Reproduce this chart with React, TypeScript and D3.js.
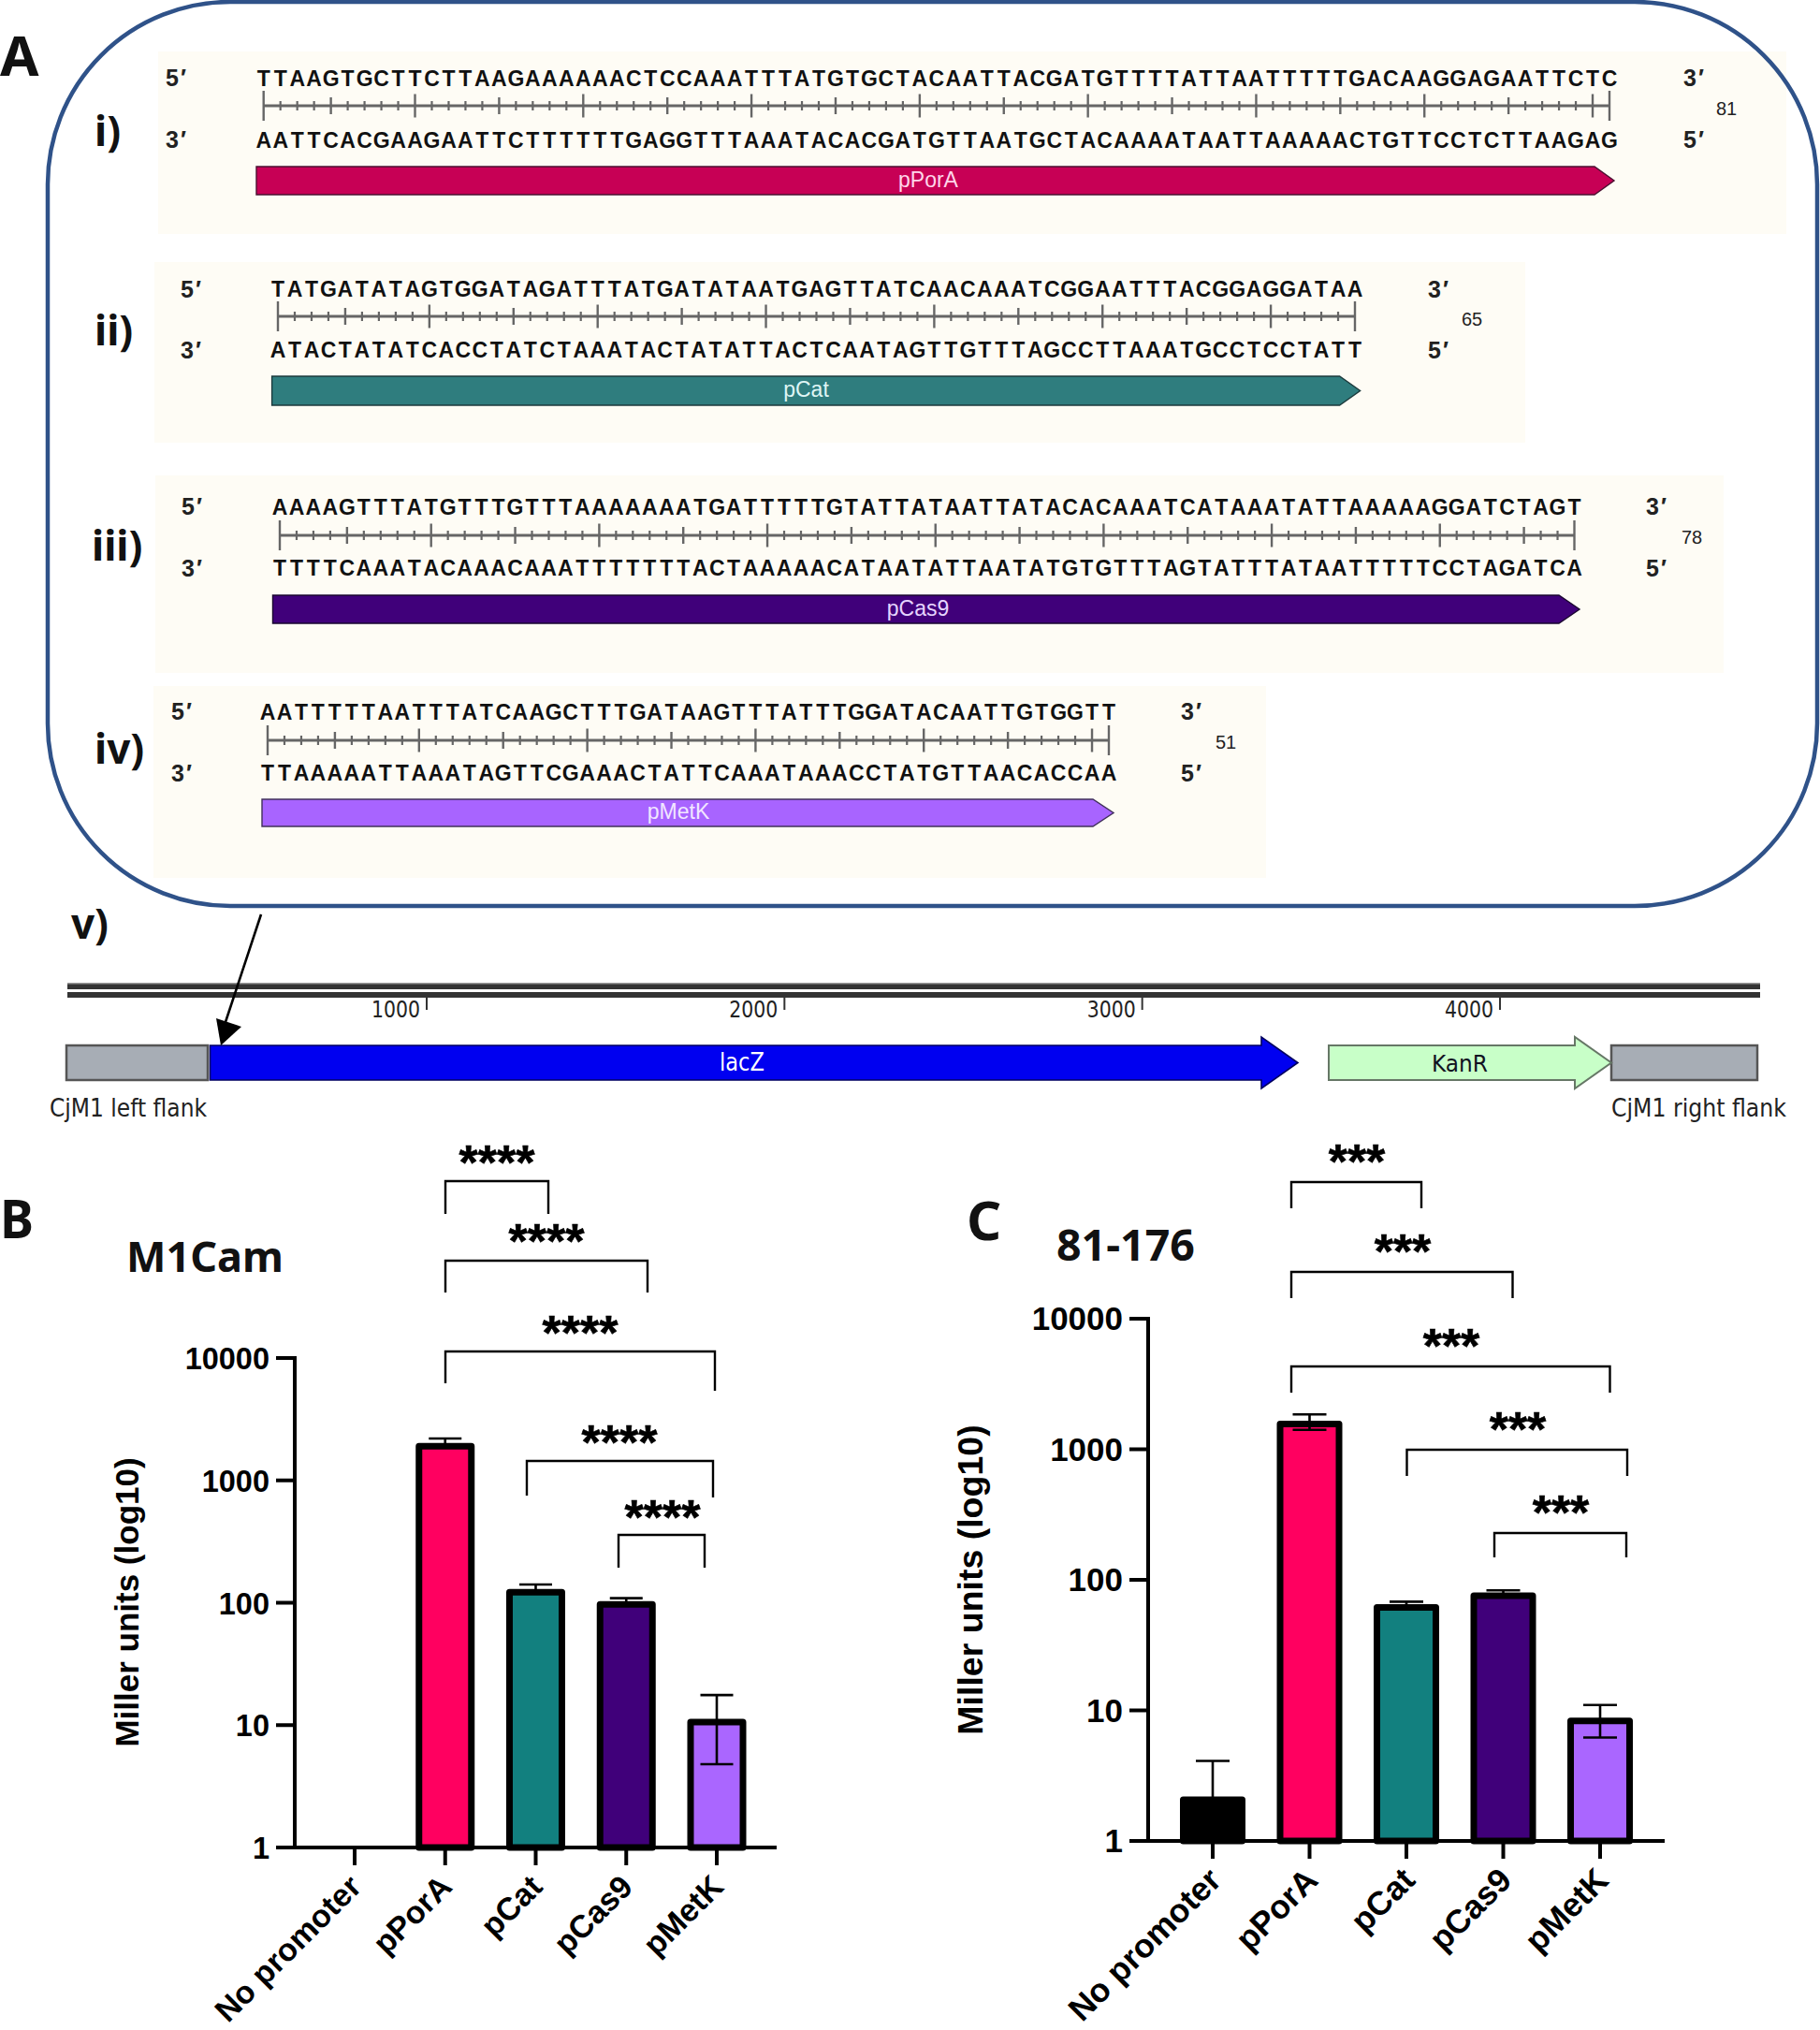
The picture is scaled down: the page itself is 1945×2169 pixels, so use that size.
import React from "react";
import * as d3 from "d3";

// ---------- data ----------
const seq1Top = "TTAAGTGCTTCTTAAGAAAAAACTCCAAATTTATGTGCTACAATTACGATGTTTTATTAATTTTTGACAAGGAGAATTCTC";
const seq1Bot = "AATTCACGAAGAATTCTTTTTTGAGGTTTAAATACACGATGTTAATGCTACAAAATAATTAAAAACTGTTCCTCTTAAGAG";
const seq2Top = "TATGATATAGTGGATAGATTTATGATATAATGAGTTATCAACAAATCGGAATTTACGGAGGATAA";
const seq2Bot = "ATACTATATCACCTATCTAAATACTATATTACTCAATAGTTGTTTAGCCTTAAATGCCTCCTATT";
const seq3Top = "AAAAGTTTATGTTTGTTTAAAAAAATGATTTTTGTATTATAATTATACACAAATCATAAATATTAAAAAGGATCTAGT";
const seq3Bot = "TTTTCAAATACAAACAAATTTTTTTACTAAAAACATAATATTAATATGTGTTTAGTATTTATAATTTTTCCTAGATCA";
const seq4Top = "AATTTTTAATTTATCAAGCTTTGATAAGTTTATTTGGATACAATTGTGGTT";
const seq4Bot = "TTAAAAATTAAATAGTTCGAAACTATTCAAATAAACCTATGTTAACACCAA";

const categories = ["No promoter", "pPorA", "pCat", "pCas9", "pMetK"];
const barColors = ["#000000", "#ff0060", "#12807f", "#40007a", "#aa66ff"];

const m1camValues = [null, 1905, 122, 97, 10.6];
const m1camErrTop = [null, 2200, 141, 109, 17.6];
const m1camErrLow = [null, null, null, null, 4.8];

const c81Values = [2.07, 1560, 61.5, 75.5, 8.3];
const c81ErrTop = [4.1, 1850, 68, 83, 11];
const c81ErrLow = [null, 1410, null, null, 6.2];

const yTicks = [1, 10, 100, 1000, 10000];
const mapTicks = [1000, 2000, 3000, 4000];

// ---------- layout ----------
const seqPanels = [
  { label: "i)", lx: 101, ly: 142, top: seq1Top, bot: seq1Bot, bg: [169, 55, 1909, 250], y1: 83, y2: 149, ry: 113, x0: 281.7, x1: 1720, arrow: [274, 1704, 1725, 178, 208], fill: "#c70055", edge: "#4a1030", name: "pPorA", nx: 992, nameColor: "#ffd6ea", l5: 177, r3: 1799, count: "81", cx: 1845, cy: 116 },
  { label: "ii)", lx: 101, ly: 355, top: seq2Top, bot: seq2Bot, bg: [165, 280, 1630, 473], y1: 308.5, y2: 373.5, ry: 338, x0: 297, x1: 1448, arrow: [290.6, 1431.6, 1453.6, 402, 433], fill: "#2f7d7e", edge: "#1c3a3c", name: "pCat", nx: 861.5, nameColor: "#dff5f5", l5: 193, r3: 1526, count: "65", cx: 1573, cy: 341 },
  { label: "iii)", lx: 98, ly: 585, top: seq3Top, bot: seq3Bot, bg: [166, 508, 1842, 719], y1: 541, y2: 606.5, ry: 572, x0: 299, x1: 1682.5, arrow: [291.5, 1666, 1688, 636, 666], fill: "#40007a", edge: "#1a0630", name: "pCas9", nx: 981, nameColor: "#e6d5ff", l5: 194, r3: 1759, count: "78", cx: 1808, cy: 574 },
  { label: "iv)", lx: 101, ly: 802, top: seq4Top, bot: seq4Bot, bg: [164, 733, 1353, 938], y1: 760, y2: 825.5, ry: 791, x0: 286, x1: 1185, arrow: [280, 1168, 1190, 854, 883], fill: "#a864ff", edge: "#40305a", name: "pMetK", nx: 725, nameColor: "#f1e6ff", l5: 183, r3: 1262, count: "51", cx: 1310, cy: 793 },
];

const bracketsB = [
  { x1: 476, x2: 586, y: 1262, b1: 1297, b2: 1297, sx: 531, sy: 1235 },
  { x1: 476, x2: 692, y: 1347, b1: 1381, b2: 1381, sx: 584, sy: 1319 },
  { x1: 476, x2: 764, y: 1444, b1: 1478, b2: 1486, sx: 620, sy: 1417 },
  { x1: 563, x2: 762, y: 1561, b1: 1598, b2: 1600, sx: 662, sy: 1534 },
  { x1: 661, x2: 753, y: 1640, b1: 1675, b2: 1675, sx: 708, sy: 1614 },
];
const bracketsC = [
  { x1: 1380, x2: 1519, y: 1263, b1: 1291, b2: 1291, sx: 1450, sy: 1234 },
  { x1: 1380, x2: 1616.5, y: 1359, b1: 1387, b2: 1387, sx: 1499, sy: 1330 },
  { x1: 1380, x2: 1720.5, y: 1460, b1: 1488, b2: 1488, sx: 1551, sy: 1431 },
  { x1: 1503.5, x2: 1739, y: 1549, b1: 1577, b2: 1577, sx: 1622, sy: 1520 },
  { x1: 1597, x2: 1738, y: 1638, b1: 1664, b2: 1664, sx: 1668, sy: 1609 },
];

const SANS = "'Liberation Sans', Arial, sans-serif";
const HEAD = "'Noto Sans', sans-serif";
const DEJA = "'DejaVu Sans', sans-serif";

function SeqPanel({ p }: any) {
  const n = p.top.length;
  const x = d3.scaleLinear().domain([1, n]).range([p.x0, p.x1]);
  const idx = d3.range(1, n + 1);
  const xs = idx.map((i) => x(i).toFixed(1)).join(" ");
  const [a0, a1, a2, t, b] = p.arrow;
  const my = (t + b) / 2;
  const tickH = (i: number) => (i === 1 || i === n ? 16 : i % 10 === 0 ? 12.5 : i % 5 === 0 ? 9 : 5);
  const seqStyle = { fontFamily: SANS, fontWeight: 700, fontSize: 23, fill: "#111", textAnchor: "middle" as const };
  const primeStyle = { fontFamily: SANS, fontWeight: 700, fontSize: 25, fill: "#222", textLength: 22, lengthAdjust: "spacing" as const };
  return (
    <g>
      <rect x={p.bg[0]} y={p.bg[1]} width={p.bg[2] - p.bg[0]} height={p.bg[3] - p.bg[1]} fill="#fefcf5" />
      <text x={p.lx} y={p.ly + 14} fontFamily={HEAD} fontWeight={700} fontSize={44} fill="#111">{p.label}</text>
      <text x={xs} y={p.y1 + 8.5} {...seqStyle}>{p.top}</text>
      <text x={xs} y={p.y2 + 8.5} {...seqStyle}>{p.bot}</text>
      <line x1={p.x0} x2={p.x1} y1={p.ry} y2={p.ry} stroke="#666" strokeWidth={2.8} />
      {idx.map((i) => (
        <line key={i} x1={x(i)} x2={x(i)} y1={p.ry - tickH(i)} y2={p.ry + tickH(i)} stroke="#666" strokeWidth={i % 5 === 0 || i === 1 || i === n ? 2.4 : 2.2} />
      ))}
      <path d={`M${a0},${t}H${a1}L${a2},${my}L${a1},${b}H${a0}Z`} fill={p.fill} stroke={p.edge} strokeWidth={1.4} />
      <text x={p.nx} y={my + 6.5} textAnchor="middle" fontFamily={SANS} fontSize={23} fill={p.nameColor}>{p.name}</text>
      <text x={p.l5} y={p.y1 + 9} {...primeStyle}>5′</text>
      <text x={p.l5} y={p.y2 + 9} {...primeStyle}>3′</text>
      <text x={p.r3} y={p.y1 + 9} {...primeStyle}>3′</text>
      <text x={p.r3} y={p.y2 + 9} {...primeStyle}>5′</text>
      <text x={p.cx} y={p.cy + 7} textAnchor="middle" fontFamily="'Liberation Sans Narrow', 'Liberation Sans', sans-serif" fontSize={20} fill="#222">{p.count}</text>
    </g>
  );
}

function BarChart({ cfg }: any) {
  const y = d3.scaleLog().domain([1, 10000]).range([cfg.y1, cfg.y10k]);
  const x = d3.scalePoint().domain(categories).range([cfg.xa, cfg.xb]);
  const lw = 4;
  return (
    <g>
      {categories.map((c, i) => {
        const v = cfg.values[i];
        const cx = x(c) as number;
        const top = cfg.errTop[i];
        const low = cfg.errLow[i];
        return (
          <g key={c}>
            {top != null && (
              <g stroke="#000" strokeWidth={2.6}>
                <line x1={cx} x2={cx} y1={y(v)} y2={y(top)} />
                <line x1={cx - cfg.cap} x2={cx + cfg.cap} y1={y(top)} y2={y(top)} />
              </g>
            )}
            {v != null && (
              <rect x={cx - cfg.bw / 2} width={cfg.bw} y={y(v)} height={y(1) - y(v)} fill={barColors[i]} stroke="#000" strokeWidth={7} strokeLinejoin="round" />
            )}
            {low != null && (
              <g stroke="#000" strokeWidth={2.6}>
                <line x1={cx} x2={cx} y1={y(v)} y2={y(low)} />
                <line x1={cx - cfg.cap} x2={cx + cfg.cap} y1={y(low)} y2={y(low)} />
              </g>
            )}
            <line x1={cx} x2={cx} y1={cfg.y1} y2={cfg.y1 + 19} stroke="#000" strokeWidth={lw} />
            <text
              transform={`translate(${cx + cfg.xdx},${cfg.y1 + 44}) rotate(-45)`}
              textAnchor="end"
              fontFamily={SANS}
              fontWeight={700}
              fontSize={cfg.xfs}
              fill="#000"
            >
              {c}
            </text>
          </g>
        );
      })}
      <line x1={cfg.ax} x2={cfg.ax} y1={cfg.y10k - 2} y2={cfg.y1 + 2} stroke="#000" strokeWidth={lw} />
      <line x1={cfg.ax - 20} x2={cfg.xEnd} y1={cfg.y1} y2={cfg.y1} stroke="#000" strokeWidth={lw} />
      {yTicks.map((t) => (
        <g key={t}>
          <line x1={cfg.ax - 20} x2={cfg.ax} y1={y(t)} y2={y(t)} stroke="#000" strokeWidth={lw} />
          <text x={cfg.ax - 27} y={y(t) + 12} textAnchor="end" fontFamily={SANS} fontWeight={700} fontSize={cfg.yfs} fill="#000">{t}</text>
        </g>
      ))}
      <text
        transform={`translate(${cfg.ylx},${cfg.yly}) rotate(-90)`}
        textAnchor="middle"
        fontFamily={SANS}
        fontWeight={700}
        fontSize={cfg.lfs}
        fill="#000"
      >
        Miller units (log10)
      </text>
      <text x={cfg.tx} y={cfg.ty} fontFamily={HEAD} fontWeight={700} fontSize={cfg.tfs} fill="#111">{cfg.title}</text>
      {cfg.brackets.map((b: any, i: number) => (
        <g key={i}>
          <path d={`M${b.x1},${b.b1}V${b.y}H${b.x2}V${b.b2}`} fill="none" stroke="#000" strokeWidth={2.4} />
          <text x={b.sx} y={b.sy + 24.5} textAnchor="middle" fontFamily={SANS} fontWeight={700} fontSize={52} fill="#000" stroke="#000" strokeWidth={0.6}>{cfg.stars}</text>
        </g>
      ))}
    </g>
  );
}

function MapPanel() {
  const bp = d3.scaleLinear().domain([1000, 4000]).range([456, 1603]);
  const yTop = 1117, yBot = 1154, ym = (yTop + yBot) / 2;
  return (
    <g>
      <text x={76} y={1003} fontFamily={HEAD} fontWeight={700} fontSize={44} fill="#111">v)</text>
      <rect x={72} y={1050} width={1809} height={7} fill="#333" />
      <rect x={72} y={1060} width={1809} height={6} fill="#333" />
      <rect x={72} y={1050} width={1809} height={1.5} fill="#999" />
      {mapTicks.map((t) => (
        <g key={t}>
          <line x1={bp(t)} x2={bp(t)} y1={1066} y2={1079} stroke="#333" strokeWidth={2} />
          <text x={bp(t) - 7} y={1087} textAnchor="end" fontFamily={DEJA} fontSize={24} fill="#222" textLength={52} lengthAdjust="spacingAndGlyphs">{t}</text>
        </g>
      ))}
      <rect x={71} y={yTop} width={151} height={yBot - yTop} fill="#a7adb5" stroke="#555" strokeWidth={2.5} />
      <rect x={1722} y={yTop} width={156} height={yBot - yTop} fill="#a7adb5" stroke="#555" strokeWidth={2.5} />
      <path d={`M224.5,${yTop}H1348V1108L1387,${ym}L1348,1163V${yBot}H224.5Z`} fill="#0000f0" stroke="#000060" strokeWidth={1.6} />
      <path d={`M1420,${yTop}H1683V1108L1722,${ym}L1683,1163V${yBot}H1420Z`} fill="#c8ffc8" stroke="#667766" strokeWidth={2} />
      <text x={793} y={ym + 8} textAnchor="middle" fontFamily={DEJA} fontSize={26} fill="#fff" textLength={48} lengthAdjust="spacingAndGlyphs">lacZ</text>
      <text x={1560} y={ym + 9} textAnchor="middle" fontFamily={DEJA} fontSize={25} fill="#112" textLength={60} lengthAdjust="spacingAndGlyphs">KanR</text>
      <text x={53} y={1193} fontFamily={DEJA} fontSize={26} fill="#222" textLength={168} lengthAdjust="spacingAndGlyphs">CjM1 left flank</text>
      <text x={1722} y={1193} fontFamily={DEJA} fontSize={26} fill="#222" textLength={187} lengthAdjust="spacingAndGlyphs">CjM1 right flank</text>
      <line x1={279} y1={977} x2={240} y2={1095} stroke="#000" strokeWidth={2.6} />
      <path d="M231,1088L258,1097L236,1117Z" fill="#000" />
    </g>
  );
}

const cfgB = {
  values: m1camValues, errTop: m1camErrTop, errLow: m1camErrLow,
  y1: 1974, y10k: 1451, xa: 379, xb: 766, ax: 315, xEnd: 830, bw: 56, cap: 17.5, xfs: 34, xdx: 9, yfs: 32.5, lfs: 35,
  ylx: 148, yly: 1712, title: "M1Cam", tx: 135, ty: 1359, tfs: 45, brackets: bracketsB, stars: "****",
};
const cfgC = {
  values: c81Values, errTop: c81ErrTop, errLow: c81ErrLow,
  y1: 1967, y10k: 1409, xa: 1296, xb: 1710, ax: 1227, xEnd: 1779, bw: 63, cap: 18, xfs: 35.5, xdx: 11, yfs: 35, lfs: 37.5,
  ylx: 1050, yly: 1688, title: "81-176", tx: 1129, ty: 1347, tfs: 46.5, brackets: bracketsC, stars: "***",
};

export default function App() {
  return (
    <svg width={1945} height={2169} viewBox="0 0 1945 2169" style={{ position: "absolute", left: 0, top: 0, display: "block", background: "#fff" }}>
      {seqPanels.map((p) => <SeqPanel key={p.name} p={p} />)}
      <rect x={51} y={2} width={1891} height={966} rx={195} ry={195} fill="none" stroke="#2f5289" strokeWidth={4.5} />
      <text x={0} y={81} fontFamily={HEAD} fontWeight={700} fontSize={60} fill="#111">A</text>
      <text x={0} y={1323} fontFamily={HEAD} fontWeight={700} fontSize={58} fill="#111" textLength={36} lengthAdjust="spacingAndGlyphs">B</text>
      <text x={1033} y={1325} fontFamily={HEAD} fontWeight={700} fontSize={58} fill="#111">C</text>
      <MapPanel />
      <BarChart cfg={cfgB} />
      <BarChart cfg={cfgC} />
    </svg>
  );
}
